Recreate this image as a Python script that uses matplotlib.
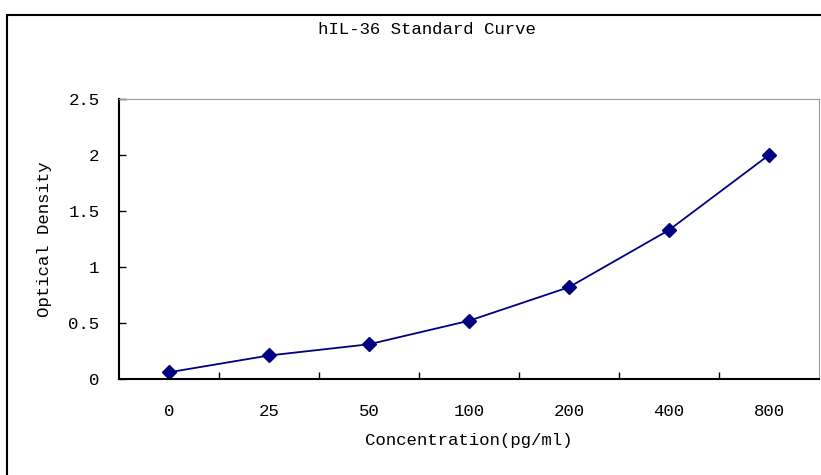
import matplotlib
matplotlib.use('Agg')
import matplotlib.pyplot as plt
from matplotlib.patches import Rectangle

# standard curve data
concentrations = ["0", "25", "50", "100", "200", "400", "800"]
od_values = [0.06, 0.21, 0.31, 0.52, 0.82, 1.33, 2.0]
y_ticks = [0, 0.5, 1, 1.5, 2, 2.5]
y_labels = ["0", "0.5", "1", "1.5", "2", "2.5"]

plt.rcParams['font.family'] = ['Liberation Mono', 'DejaVu Sans Mono']
fs = 12.5

fig = plt.figure(figsize=(8.21, 4.75), dpi=100)
ax = fig.add_axes([119/821, 1-379/475, 700/821, 280/475])

# outer chart frame
fig.patches.append(Rectangle((7/821, -0.1), 1.1, 1-15/475+0.1, transform=fig.transFigure,
                             fill=False, edgecolor='black', linewidth=1.5))

x = list(range(len(concentrations)))
ax.plot(x, od_values, color='#000080', linewidth=1.3, marker='D', markersize=7.5)

ax.set_xlim(-0.5, len(concentrations) - 0.5)
ax.set_ylim(0, 2.5)
ax.set_yticks(y_ticks)
ax.set_yticklabels(y_labels, fontsize=fs)
ax.set_xticks(x)
ax.set_xticklabels(concentrations, fontsize=fs)
ax.set_xticks([i + 0.5 for i in x[:-1]], minor=True)

ax.tick_params(axis='x', which='major', length=0, pad=18)
ax.tick_params(axis='x', which='minor', direction='in', length=5, width=1)
ax.tick_params(axis='y', direction='in', length=5, width=1, pad=14)

ax.spines['left'].set_linewidth(1.5)
ax.spines['bottom'].set_linewidth(1.5)
ax.spines['top'].set_color('#999999')
ax.spines['right'].set_color('#999999')

ax.set_xlabel('Concentration(pg/ml)', fontsize=fs, labelpad=10)
ax.set_ylabel('Optical Density', fontsize=fs, labelpad=12)
fig.text(427/821, 1-30/475, 'hIL-36 Standard Curve', fontsize=fs, ha='center', va='center')

plt.savefig('out.png', dpi=100)
